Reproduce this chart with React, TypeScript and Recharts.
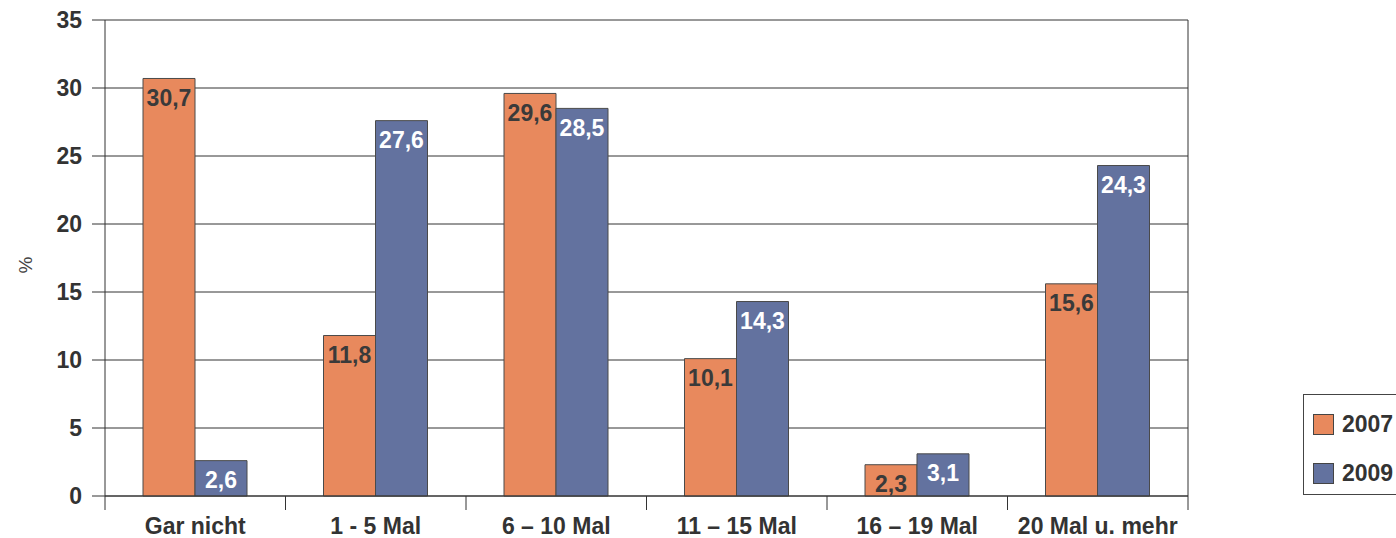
import { BarChart, Bar, XAxis, YAxis, CartesianGrid, LabelList } from 'recharts'

const CATEGORIES = ['Gar nicht', '1 - 5 Mal', '6 – 10 Mal', '11 – 15 Mal', '16 – 19 Mal', '20 Mal u. mehr']
const VALUES_2007 = [30.7, 11.8, 29.6, 10.1, 2.3, 15.6]
const VALUES_2009 = [2.6, 27.6, 28.5, 14.3, 3.1, 24.3]
const Y_TICKS = [0, 5, 10, 15, 20, 25, 30, 35]

const ORANGE = '#E8895D'
const BLUE = '#63729F'
const INK = '#333333'
const FONT = '"Liberation Sans", Arial, Helvetica, sans-serif'

const data = CATEGORIES.map((name, i) => ({ name, y2007: VALUES_2007[i], y2009: VALUES_2009[i] }))

const fmt = (v: any) => String(v).replace('.', ',')

// category label plus tick marks on the category boundaries
function CatTick(props: any) {
  const { x, y, payload, index } = props
  const half = payload?.offset ?? 90.25
  const last = index === CATEGORIES.length - 1
  return (
    <g>
      <line x1={x - half} x2={x - half} y1={y} y2={y + 14} stroke={INK} />
      {last && <line x1={x + half} x2={x + half} y1={y} y2={y + 14} stroke={INK} />}
      <text x={x} y={y + 38} textAnchor="middle" fontSize={23} fontWeight={700} fill={INK} fontFamily={FONT}>
        {payload.value}
      </text>
    </g>
  )
}

function LegendBox() {
  const items = [
    { label: '2007', color: ORANGE },
    { label: '2009', color: BLUE },
  ]
  return (
    <div style={{ position: 'absolute', left: 1303, top: 394, width: 120, height: 101, boxSizing: 'border-box', border: '1px solid #444', padding: '18px 0 0 9px', fontFamily: FONT }}>
      {items.map((it) => (
        <div key={it.label} style={{ display: 'flex', alignItems: 'center', height: 22, marginBottom: 27 }}>
          <span style={{ width: 19, height: 19, background: it.color, border: '1px solid #444', display: 'inline-block', marginRight: 8 }} />
          <span style={{ fontSize: 23, fontWeight: 700, color: INK }}>{it.label}</span>
        </div>
      ))}
    </div>
  )
}

function YLabel(props: any) {
  const vb = props.viewBox
  const x = vb.x + 25
  const y = vb.y + vb.height / 2 + 7
  return (
    <text x={x} y={y} transform={`rotate(-90 ${x} ${y})`} textAnchor="middle" dominantBaseline="central" fontSize={19} fill="#444" fontFamily={FONT}>
      %
    </text>
  )
}

export default function App() {
  return (
    <div style={{ position: 'absolute', left: 0, top: 0, width: 1396, height: 538, background: '#fff', overflow: 'hidden' }}>
      <BarChart width={1396} height={538} data={data} margin={{ top: 20, right: 208, bottom: 0, left: 0 }} barGap={0} barSize={52}>
        <CartesianGrid
          stroke={INK}
          strokeWidth={1}
          verticalCoordinatesGenerator={({ offset }: any) => [offset.left + offset.width]}
        />
        <XAxis dataKey="name" height={42} tickLine={false} axisLine={{ stroke: INK }} tickSize={0} tickMargin={0} interval={0} tick={<CatTick />} />
        <YAxis domain={[0, 35]} ticks={Y_TICKS} width={105} tickSize={13} tickMargin={10} axisLine={{ stroke: INK }} tickLine={{ stroke: INK }}
          tick={{ fontSize: 23, fontWeight: 700, fill: INK, fontFamily: FONT }} label={<YLabel />} />
        <Bar dataKey="y2007" name="2007" fill={ORANGE} stroke="#4a4a4a" strokeWidth={1} isAnimationActive={false}>
          <LabelList dataKey="y2007" position="insideTop" offset={11} formatter={fmt} fill="#3a3a3a" fontSize={23} fontWeight={700} fontFamily={FONT} />
        </Bar>
        <Bar dataKey="y2009" name="2009" fill={BLUE} stroke="#4a4a4a" strokeWidth={1} isAnimationActive={false}>
          <LabelList dataKey="y2009" position="insideTop" offset={11} formatter={fmt} fill="#ffffff" fontSize={23} fontWeight={700} fontFamily={FONT} />
        </Bar>
      </BarChart>
      <LegendBox />
    </div>
  )
}
